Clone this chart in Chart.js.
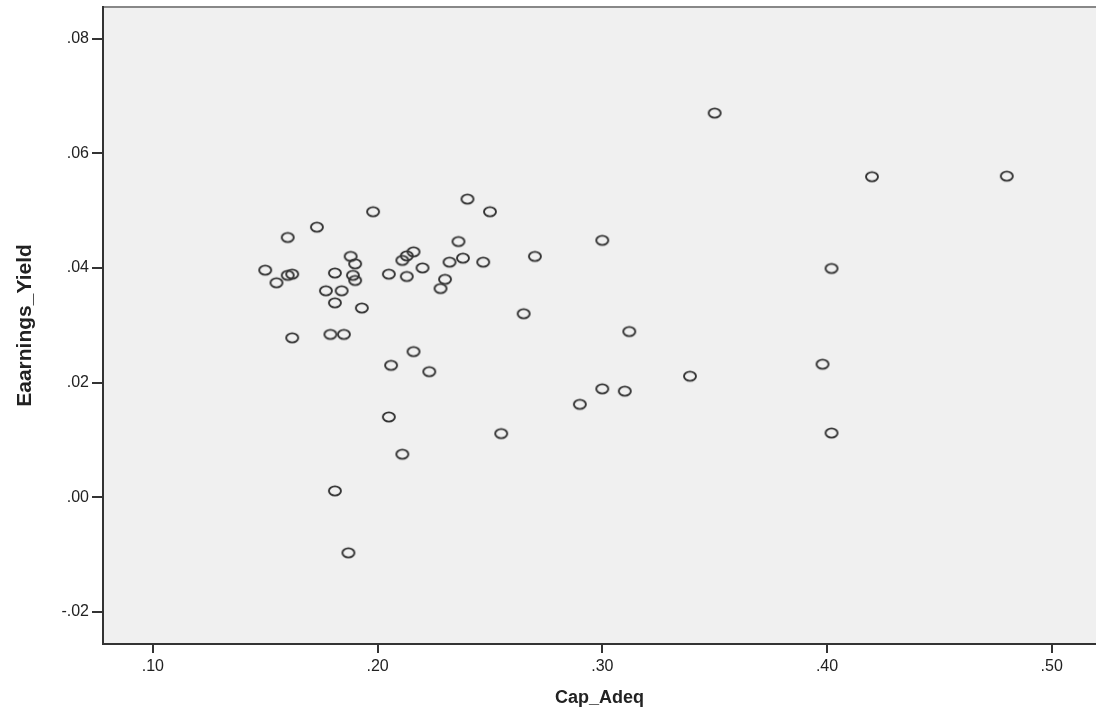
<!DOCTYPE html>
<html>
<head>
<meta charset="utf-8">
<script src="https://cdn.jsdelivr.net/npm/chart.js@4"></script>
<style>
  html, body { margin: 0; padding: 0; background: #fff; overflow: hidden; }
  canvas { display: block; }
</style>
</head>
<body>
<canvas id="scatter" width="1096" height="717"></canvas>
<script>
// values
const capAdeq = [
    0.350, 0.420, 0.480, 0.240, 0.198, 0.250, 0.173, 0.160, 0.300, 0.236,
    0.402, 0.150, 0.160, 0.162, 0.155, 0.181, 0.188, 0.190, 0.189, 0.190,
    0.177, 0.184, 0.181, 0.193, 0.205, 0.211, 0.213, 0.216, 0.220, 0.213,
    0.232, 0.238, 0.247, 0.230, 0.228, 0.270, 0.265, 0.312, 0.162, 0.179,
    0.185, 0.216, 0.206, 0.223, 0.205, 0.211, 0.181, 0.187, 0.300, 0.310,
    0.290, 0.255, 0.339, 0.398, 0.402
];
const earningsYield = [
    0.0670, 0.0559, 0.0560, 0.0520, 0.0498, 0.0498, 0.0471, 0.0453, 0.0448, 0.0446,
    0.0399, 0.0396, 0.0387, 0.0389, 0.0374, 0.0391, 0.0420, 0.0407, 0.0387, 0.0378,
    0.0360, 0.0360, 0.0339, 0.0330, 0.0389, 0.0413, 0.0421, 0.0428, 0.0400, 0.0385,
    0.0410, 0.0417, 0.0410, 0.0380, 0.0364, 0.0420, 0.0320, 0.0289, 0.0278, 0.0284,
    0.0284, 0.0254, 0.0230, 0.0219, 0.0140, 0.0075, 0.0011, -0.0097, 0.0189, 0.0185,
    0.0162, 0.0111, 0.0211, 0.0232, 0.0112
];
const xTicks = [0.10, 0.20, 0.30, 0.40, 0.50];
const yTicks = [-0.02, 0.00, 0.02, 0.04, 0.06, 0.08];

const axisColor = '#333';
const textColor = '#222';

// small open ellipse like the SPSS marker
var makeRing = function () {
    const c = document.createElement('canvas');
    c.width = 16;
    c.height = 14;
    const g = c.getContext('2d');
    g.strokeStyle = '#333';
    g.lineWidth = 1.9;
    g.beginPath();
    g.ellipse(8, 7, 6, 4.6, 0, 0, Math.PI * 2);
    g.stroke();
    return c;
}

var fmt = function (v) {
    return v.toFixed(2).replace('0.', '.');
}

// no extra label padding, the frame is placed by the layout padding
var noPad = function (scale) {
    scale.paddingTop = 0;
    scale.paddingBottom = 0;
    scale.paddingLeft = 0;
    scale.paddingRight = 0;
}

const points = capAdeq.map((x, i) => ({ x: x, y: earningsYield[i] }));

const plotFrame = {
    id: 'plotFrame',
    beforeDraw(chart) {
        const { ctx, chartArea: a } = chart;
        ctx.save();
        ctx.fillStyle = '#f0f0f0';
        ctx.fillRect(a.left, a.top, a.right - a.left, a.bottom - a.top);
        ctx.strokeStyle = '#888';
        ctx.lineWidth = 2;
        ctx.beginPath();
        ctx.moveTo(a.left, a.top);
        ctx.lineTo(a.right, a.top);
        ctx.stroke();
        ctx.restore();
    }
};

const ctx = document.getElementById('scatter').getContext('2d');
const chart = new Chart(ctx, {
    type: 'scatter',
    data: {
        datasets: [{
            data: points,
            pointStyle: makeRing(),
            pointRadius: 6,
        }]
    },
    plugins: [plotFrame],
    options: {
        responsive: false,
        animation: false,
        devicePixelRatio: 1,
        layout: { autoPadding: false, padding: { top: 7, right: 0, left: 0, bottom: 0 } },
        plugins: {
            legend: { display: false },
            tooltip: { enabled: false }
        },
        scales: {
            x: {
                type: 'linear',
                min: 0.0778,
                max: 0.5197,
                afterBuildTicks: function (scale) {
                    scale.ticks = xTicks.map(v => ({ value: v }));
                },
                afterFit: function (scale) {
                    scale.height = 73;
                    noPad(scale);
                },
                border: { display: true, color: axisColor, width: 2 },
                grid: {
                    drawOnChartArea: false,
                    drawTicks: true,
                    tickLength: 9,
                    color: axisColor,
                    lineWidth: 2
                },
                ticks: {
                    color: textColor,
                    padding: 4,
                    maxRotation: 0,
                    font: { family: 'Liberation Sans', size: 16 },
                    callback: function (v) { return fmt(v); }
                },
                title: {
                    display: true,
                    text: 'Cap_Adeq',
                    color: textColor,
                    padding: { bottom: 8 },
                    font: { family: 'Liberation Sans', size: 18, weight: 'bold' }
                }
            },
            y: {
                type: 'linear',
                min: -0.0256,
                max: 0.0855,
                afterBuildTicks: function (scale) {
                    scale.ticks = yTicks.map(v => ({ value: v }));
                },
                afterFit: function (scale) {
                    scale.width = 103;
                    noPad(scale);
                },
                border: { display: true, color: axisColor, width: 2 },
                grid: {
                    drawOnChartArea: false,
                    drawTicks: true,
                    tickLength: 11,
                    color: axisColor,
                    lineWidth: 2
                },
                ticks: {
                    color: textColor,
                    padding: 3,
                    font: { family: 'Liberation Sans', size: 16 },
                    callback: function (v) { return fmt(v); }
                },
                title: {
                    display: true,
                    text: 'Eaarnings_Yield',
                    color: textColor,
                    padding: { top: 13 },
                    font: { family: 'Liberation Sans', size: 21, weight: 'bold' }
                }
            }
        }
    }
});
</script>
</body>
</html>
